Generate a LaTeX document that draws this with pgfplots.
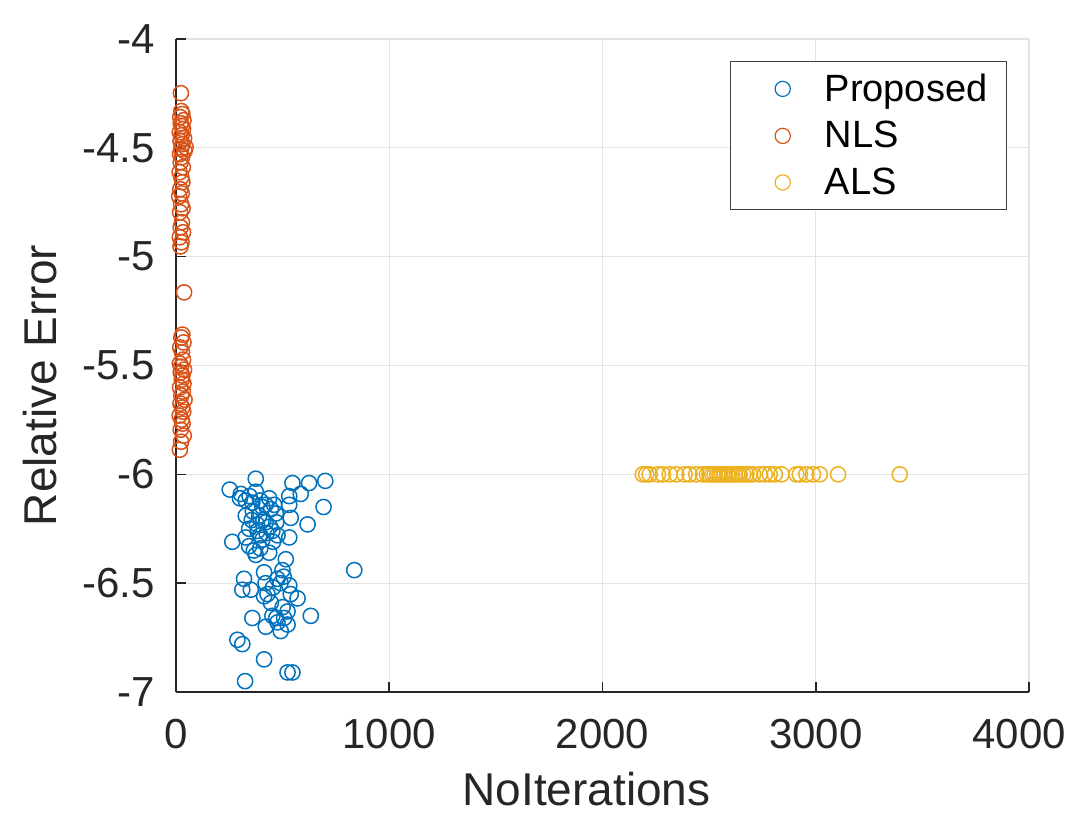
\documentclass[border=0pt]{standalone}
\usepackage{pgfplots}
\pgfplotsset{compat=1.18}
\usepackage{fontspec}
\setmainfont{Liberation Sans}
\definecolor{mblue}{rgb}{0,0.447,0.741}
\definecolor{morange}{rgb}{0.85,0.325,0.098}
\definecolor{myellow}{rgb}{0.929,0.694,0.125}
\definecolor{tickgray}{gray}{0.15}
\begin{document}
\begin{tikzpicture}
\begin{axis}[
  name=ax,
  scale only axis,
  width=426.5pt, height=326.5pt,
  xmin=0, xmax=4000, ymin=-7, ymax=-4,
  xtick={0,1000,2000,3000,4000},
  xticklabels={0,1000,2000,3000,4000\hspace*{10pt}},
  ytick={-7,-6.5,-6,-5.5,-5,-4.5,-4},
  yticklabels={-7,-6.5,-6,-5.5,-5,-4.5,-4},
  scaled ticks=false,
  axis x line*=bottom, axis y line*=left,
  axis line style={draw=tickgray, line width=0.8pt, -},
  tick style={draw=tickgray, line width=0.8pt},
  tick align=inside,
  major tick length=5pt,
  grid=major,
  grid style={draw=gray!22, line width=0.6pt},
  /pgf/number format/assume math mode=true,
  tick label style={font=\fontsize{21}{25}\selectfont, text=tickgray},
  xticklabel style={yshift=-10pt},
  yticklabel style={xshift=-7pt},
  xlabel={NoIterations}, ylabel={Relative Error},
  label style={font=\fontsize{23}{27}\selectfont, text=tickgray},
  xlabel style={yshift=-5pt, xshift=-8pt},
  ylabel style={yshift=6pt, xshift=-10pt},
  legend style={at={(1,1)}, xshift=-11pt, yshift=-11pt, anchor=north east,
     draw=black!75, line width=0.6pt, font=\fontsize{19}{22}\selectfont,
     row sep=4.5pt, inner xsep=7.5pt, inner ysep=4pt,
     /tikz/every even column/.append style={column sep=0pt}},
  legend cell align=left,
  legend image code/.code={\draw[#1] (18.5pt,0pt) circle (3.8pt); \path[draw=none] (0pt,0pt) -- (37.5pt,0pt);},
]
\addplot[only marks, mark=o, mark size=3.8pt, draw=mblue, mark options={line width=0.75pt}] coordinates {
(374,-6.02) (252,-6.07) (546,-6.04) (624,-6.04) (700,-6.03) (585,-6.09) (304,-6.09)
(374,-6.08) (692,-6.15) (531,-6.10) (327,-6.12) (358,-6.13) (437,-6.11) (460,-6.14)
(531,-6.14) (405,-6.15) (327,-6.19) (390,-6.19) (468,-6.18) (538,-6.20) (617,-6.23)
(421,-6.22) (343,-6.25) (452,-6.26) (382,-6.26) (531,-6.29) (264,-6.31) (327,-6.29)
(405,-6.30) (476,-6.28) (343,-6.33) (437,-6.36) (374,-6.37) (515,-6.39) (836,-6.44)
(413,-6.45) (499,-6.44) (319,-6.48) (476,-6.48) (531,-6.51) (311,-6.53) (351,-6.53)
(429,-6.55) (413,-6.56) (538,-6.55) (570,-6.57) (523,-6.63) (358,-6.66) (632,-6.65)
(452,-6.65) (507,-6.66) (421,-6.70) (476,-6.68) (523,-6.69) (491,-6.72) (288,-6.76)
(311,-6.78) (413,-6.85) (523,-6.91) (546,-6.91) (324,-6.95)
(300,-6.11) (345,-6.10) (395,-6.12) (420,-6.14) (445,-6.16) (360,-6.17) (410,-6.21)
(380,-6.23) (440,-6.24) (470,-6.22) (355,-6.21) (395,-6.28) (425,-6.27) (455,-6.31)
(365,-6.35) (395,-6.34) (420,-6.50) (455,-6.52) (490,-6.50) (505,-6.47) (445,-6.59)
(470,-6.66) (500,-6.61)
};
\addlegendentry{Proposed}
\addplot[only marks, mark=o, mark size=3.8pt, draw=morange, mark options={line width=0.75pt}] coordinates {
(23,-4.249) (25,-4.331) (30,-4.345) (20,-4.359) (35,-4.373) (22,-4.387) (28,-4.400)
(33,-4.414) (18,-4.428) (26,-4.442) (38,-4.456) (21,-4.469) (30,-4.483) (45,-4.497)
(24,-4.506) (40,-4.515) (19,-4.529) (28,-4.543) (22,-4.566) (32,-4.589) (17,-4.612)
(25,-4.635) (30,-4.658) (20,-4.690) (27,-4.709) (15,-4.723) (24,-4.759) (31,-4.778)
(19,-4.796) (28,-4.842) (22,-4.865) (33,-4.888) (18,-4.911) (26,-4.934) (21,-4.953)
(38,-5.164) (30,-5.358) (25,-5.371) (35,-5.394) (20,-5.417) (28,-5.440) (33,-5.473)
(18,-5.491) (24,-5.505) (38,-5.519) (22,-5.532) (30,-5.546) (27,-5.565) (35,-5.583)
(19,-5.601) (32,-5.620) (25,-5.638) (40,-5.657) (21,-5.675) (29,-5.693) (34,-5.712)
(17,-5.730) (26,-5.749) (31,-5.767) (22,-5.795) (36,-5.822) (24,-5.850) (18,-5.887)
};
\addlegendentry{NLS}
\addplot[only marks, mark=o, mark size=3.8pt, draw=myellow, mark options={line width=0.75pt}] coordinates {
(2189,-6) (2205,-6) (2221,-6) (2260,-6) (2283,-6) (2315,-6) (2346,-6) (2385,-6) (2408,-6)
(2440,-6) (2471,-6) (2490,-6) (2502,-6) (2515,-6) (2526,-6) (2540,-6) (2549,-6) (2560,-6)
(2573,-6) (2585,-6) (2596,-6) (2608,-6) (2620,-6) (2632,-6) (2643,-6) (2660,-6) (2675,-6)
(2690,-6) (2706,-6) (2737,-6) (2761,-6) (2784,-6) (2808,-6) (2839,-6) (2909,-6) (2925,-6)
(2956,-6) (2987,-6) (3019,-6) (3105,-6) (3394,-6)
};
\addlegendentry{ALS}
\end{axis}
\pgfresetboundingbox
\path[use as bounding box] ([xshift=-88pt,yshift=-61.5pt]ax.south west) rectangle ([xshift=21pt,yshift=19.5pt]ax.north east);
\end{tikzpicture}
\end{document}
